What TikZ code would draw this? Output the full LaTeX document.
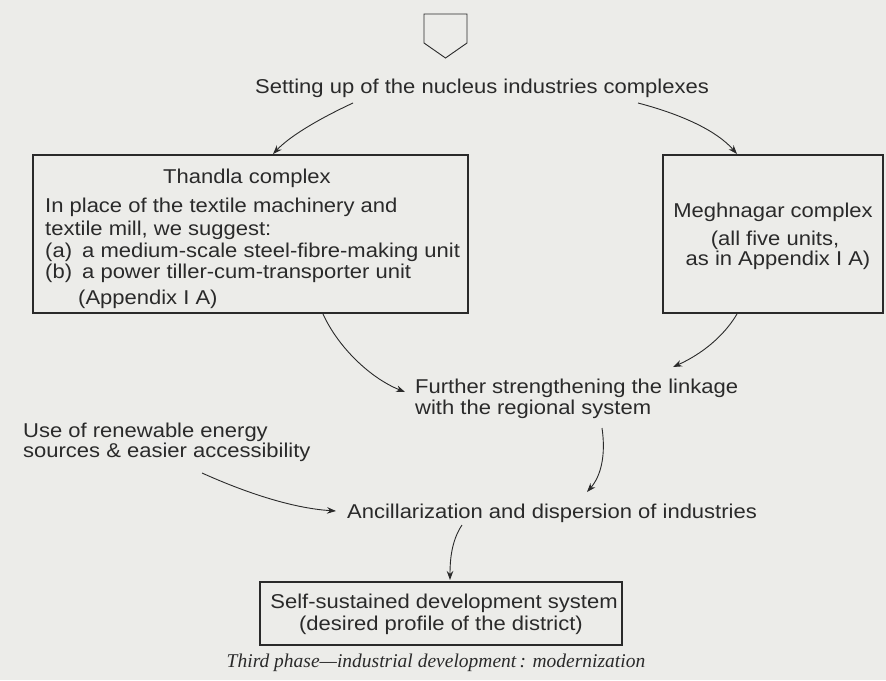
\documentclass[tikz,border=0pt]{standalone}
\usepackage{fontspec}
\setmainfont[FakeStretch=1.1]{Liberation Sans}
\newfontfamily\captionserif{Liberation Serif}
\usetikzlibrary{arrows.meta}
\definecolor{paper}{RGB}{236,236,233}
\definecolor{ink}{RGB}{42,42,42}
\begin{document}
\begin{tikzpicture}[x=1pt,y=-1pt,
  txt/.style={inner sep=0pt, text=ink, font=\fontsize{20}{24}\selectfont},
  capt/.style={inner sep=0pt, text=ink, font=\captionserif\itshape\fontsize{19.5}{23}\selectfont},
  box/.style={draw=ink, line width=1.5pt, inner sep=0pt},
  link/.style={draw=ink, line width=0.9pt, -{Stealth[length=9pt,width=6.5pt]}},
]
\fill[paper] (0,0) rectangle (886,680);
\useasboundingbox (0,0) rectangle (886,680);

% off-page connector at the top
\draw[ink, line width=0.9pt] (424,14) -- (467,14) -- (467,43) -- (445.5,58) -- (424,43) -- cycle;

% heading
\node[txt, anchor=base west] (setting) at (255,93) {Setting up of the nucleus industries complexes};

% Thandla complex
\node[box, minimum width=435pt, minimum height=158pt] (thandla) at (250.5,234) {};
\node[txt, anchor=base] (thT) at (247,183) {Thandla complex};
\node[txt, anchor=base west] (th1) at (45,212) {In place of the textile machinery and};
\node[txt, anchor=base west] (th2) at (45,235) {textile mill, we suggest:};
\node[txt, anchor=base west] (th3) at (45,257) {\makebox[37pt][l]{(a)}a medium-scale steel-fibre-making unit};
\node[txt, anchor=base west] (th4) at (45,278) {\makebox[37pt][l]{(b)}a power tiller-cum-transporter unit};
\node[txt, anchor=base west] (th5) at (78,304) {(Appendix I A)};

% Meghnagar complex
\node[box, minimum width=220pt, minimum height=158pt] (megh) at (773,234) {};
\node[txt, anchor=base] (mgT) at (773,217) {Meghnagar complex};
\node[txt, anchor=base] (mg1) at (775,245) {(all five units,};
\node[txt, anchor=base] (mg2) at (778,265) {as in Appendix I A)};

% middle stages
\node[txt, anchor=base west] (fur1) at (415,393) {Further strengthening the linkage};
\node[txt, anchor=base west] (fur2) at (415,414) {with the regional system};
\node[txt, anchor=base west] (use1) at (23,437) {Use of renewable energy};
\node[txt, anchor=base west] (use2) at (23,457) {sources \& easier accessibility};
\node[txt, anchor=base west] (anc) at (347,518) {Ancillarization and dispersion of industries};

% final box
\node[box, minimum width=362pt, minimum height=63pt] (self) at (441,613.5) {};
\node[txt, anchor=base] (sf1) at (444,608) {Self-sustained development system};
\node[txt, anchor=base] (sf2) at (441,630) {(desired profile of the district)};

% caption
\node[capt, anchor=base] (cap) at (436,667) {Third phase—industrial development\,: modernization};

% connector end points
\coordinate (setL) at (353,103);
\coordinate (setR) at (638,103);
\coordinate (thIn) at (273,154);
\coordinate (mgIn) at (737,154);
\coordinate (thOut) at (323,314);
\coordinate (mgOut) at (737,314);
\coordinate (furInL) at (405,392);
\coordinate (furInR) at (673,367);
\coordinate (furOut) at (602,428);
\coordinate (ancInT) at (587,492);
\coordinate (useOut) at (202,473);
\coordinate (ancInL) at (336,511);
\coordinate (ancOut) at (462,525);
\coordinate (selfIn) at (450,580);

% connectors
\draw[link] (setL) .. controls (325,116) and (292,134) .. (thIn);
\draw[link] (setR) .. controls (680,114) and (716,130) .. (mgIn);
\draw[link] (thOut) .. controls (338,347) and (370,378) .. (furInL);
\draw[link] (mgOut) .. controls (724,336) and (702,354) .. (furInR);
\draw[link] (furOut) .. controls (606,455) and (601,476) .. (ancInT);
\draw[link] (useOut) .. controls (242,491) and (290,508) .. (ancInL);
\draw[link] (ancOut) .. controls (452,540) and (450,558) .. (selfIn);
\end{tikzpicture}
\end{document}
